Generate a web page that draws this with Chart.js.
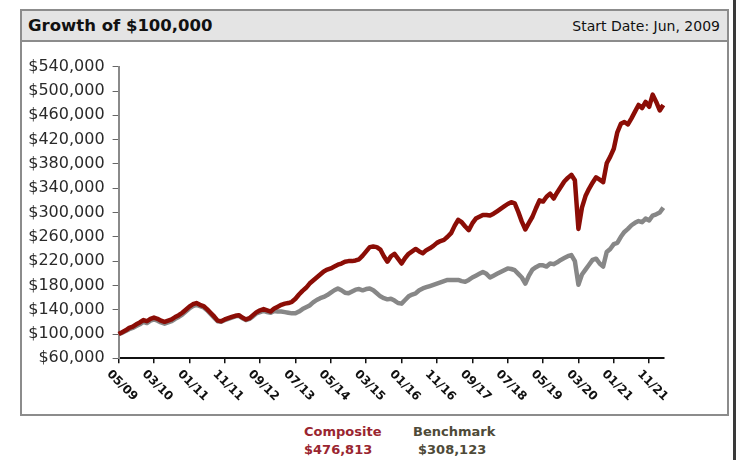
<!DOCTYPE html>
<html>
<head>
<meta charset="utf-8">
<script src="https://cdn.jsdelivr.net/npm/chart.js"></script>
<style>
  body { margin: 0; background: #fff; width: 737px; height: 460px; position: relative; overflow: hidden; }
  .box { position: absolute; box-sizing: border-box; }
  #titleBar { left: 20px; top: 9px; width: 709px; height: 33px; background: #e4e4e4; border: 2px solid #8c8c8c; }
  #title { position: absolute; left: 6px; top: 5px; font: bold 16.5px "DejaVu Sans"; color: #111; }
  #startDate { position: absolute; right: 7px; top: 7px; font: 14px "DejaVu Sans"; color: #111; }
  #plotBox { left: 20px; top: 40px; width: 709px; height: 376px; border: 2px solid #8c8c8c; }
  #edge { left: 733px; top: 0; width: 3px; height: 460px; background: #3a3a3a; }
  .leg { position: absolute; font: bold 13px "DejaVu Sans"; line-height: 18px; }
  #wrap { position: absolute; left: 0; top: 0; width: 737px; height: 460px; }
</style>
</head>
<body>
<div class="box" id="titleBar">
  <span id="title">Growth of $100,000</span>
  <span id="startDate">Start Date: Jun, 2009</span>
</div>
<div class="box" id="plotBox"></div>
<div class="box" id="edge"></div>
<div class="leg" style="left:304px;top:423px;color:#9a2530">Composite<br>$476,813</div>
<div class="leg" style="left:413px;top:423px;color:#4e4a38">Benchmark<br><span style="padding-left:5px">$308,123</span></div>
<div id="wrap"><canvas id="growthChart"></canvas></div>

<script>
// monthly values, May 2009 .. Mar 2022
const composite = [
  100000, 103000, 106000, 110000, 112000, 116000, 119000, 123000, 121000, 125000,
  127000, 125000, 122000, 120000, 122000, 124000, 128000, 131000, 135000, 140000,
  145000, 149000, 151000, 148000, 146000, 141000, 135000, 129000, 122000, 121000,
  124000, 126000, 128000, 130000, 131000, 127000, 124000, 126000, 131000, 136000,
  139000, 141000, 139000, 137000, 142000, 145000, 148000, 150000, 151000, 153000,
  158000, 165000, 171000, 176000, 183000, 188000, 193000, 198000, 203000, 206000,
  208000, 211000, 214000, 216000, 219000, 220000, 220000, 221000, 223000, 229000,
  236000, 243000, 244000, 243000, 239000, 228000, 219000, 228000, 232000, 224000,
  216000, 225000, 232000, 236000, 240000, 236000, 233000, 238000, 241000, 245000,
  250000, 253000, 255000, 260000, 266000, 278000, 288000, 284000, 277000, 271000,
  282000, 290000, 293000, 296000, 296000, 295000, 298000, 302000, 306000, 310000,
  314000, 317000, 315000, 301000, 285000, 272000, 283000, 293000, 307000, 320000,
  318000, 326000, 331000, 323000, 333000, 342000, 351000, 357000, 362000, 353000,
  273000, 308000, 327000, 339000, 349000, 358000, 354000, 350000, 381000, 392000,
  405000, 432000, 446000, 449000, 445000, 455000, 466000, 477000, 472000, 482000,
  474000, 494000, 482000, 468000, 476813
];
const benchmark = [
  100000, 102000, 105000, 108000, 110000, 113000, 116000, 120000, 118000, 122000,
  124000, 122000, 119000, 117000, 119000, 121000, 125000, 128000, 132000, 137000,
  142000, 146000, 148000, 146000, 144000, 139000, 133000, 127000, 121000, 120000,
  123000, 125000, 127000, 129000, 130000, 126000, 123000, 125000, 129000, 134000,
  136000, 138000, 136000, 135000, 138000, 137000, 137000, 136000, 135000, 134000,
  134000, 137000, 141000, 144000, 147000, 152000, 156000, 159000, 161000, 164000,
  168000, 172000, 175000, 172000, 168000, 167000, 170000, 173000, 174000, 172000,
  174000, 175000, 172000, 167000, 162000, 159000, 157000, 158000, 155000, 151000,
  150000, 156000, 162000, 165000, 167000, 172000, 175000, 177000, 179000, 181000,
  183000, 185000, 187000, 189000, 189000, 189000, 189000, 187000, 186000, 189000,
  193000, 196000, 199000, 202000, 199000, 193000, 196000, 199000, 202000, 205000,
  208000, 207000, 205000, 199000, 193000, 183000, 196000, 206000, 210000, 213000,
  213000, 211000, 216000, 215000, 218000, 222000, 225000, 228000, 230000, 220000,
  181000, 198000, 206000, 214000, 222000, 224000, 216000, 211000, 235000, 240000,
  248000, 250000, 260000, 268000, 273000, 279000, 283000, 286000, 284000, 290000,
  287000, 295000, 297000, 300000, 308123
];
const tickLabels = ['05/09', '03/10', '01/11', '11/11', '09/12', '07/13', '05/14', '03/15',
                    '01/16', '11/16', '09/17', '07/18', '05/19', '03/20', '01/21', '11/21'];
const tickEvery = 10;

// month categories
const months = [];
for (let i = 0; i < composite.length; i++) {
  const m = (4 + i) % 12 + 1, y = 9 + Math.floor((4 + i) / 12);
  months.push(String(m).padStart(2, '0') + '/' + String(y).padStart(2, '0'));
}

// excel-style labels, rotated down to the right
const xLabels = {
  id: 'xLabels',
  afterDraw(chart) {
    const { ctx, scales: { x } } = chart;
    ctx.save();
    ctx.font = 'bold 12px "DejaVu Sans"';
    ctx.fillStyle = '#111';
    ctx.textAlign = 'left';
    ctx.textBaseline = 'middle';
    tickLabels.forEach((lab, k) => {
      const px = x.getPixelForValue(k * tickEvery);
      ctx.save();
      ctx.translate(px - 10, x.top + 14);
      ctx.rotate(Math.PI / 4);
      ctx.fillText(lab, 0, 0);
      ctx.restore();
    });
    ctx.restore();
  }
};

new Chart(document.getElementById('growthChart'), {
  type: 'line',
  data: {
    labels: months,
    datasets: [{
      label: 'Composite',
      data: composite,
      borderColor: '#8b0d06',
      borderWidth: 4.5,
      pointRadius: 0,
      tension: 0,
      borderJoinStyle: 'round'
    }, {
      label: 'Benchmark',
      data: benchmark,
      borderColor: '#878787',
      borderWidth: 4.5,
      pointRadius: 0,
      tension: 0,
      borderJoinStyle: 'round'
    }]
  },
  options: {
    responsive: true,
    maintainAspectRatio: false,
    animation: false,
    layout: { padding: { left: 0, right: 73.7, top: 66.7, bottom: 95.7 } },
    plugins: { legend: { display: false }, tooltip: { enabled: false } },
    scales: {
      x: {
        type: 'category',
        afterFit(s) { s.height = 6; },
        ticks: { display: false, autoSkip: false },
        grid: {
          drawOnChartArea: false,
          drawTicks: true,
          tickLength: 5,
          lineWidth: 1.5,
          color: c => c.index % tickEvery === 0 ? '#111' : 'rgba(0,0,0,0)'
        },
        border: { color: '#111', width: 2 }
      },
      y: {
        min: 60000,
        max: 540000,
        afterFit(s) { s.width = 118.6; },
        ticks: {
          stepSize: 40000,
          padding: 8,
          color: '#2a2a2a',
          font: { family: 'DejaVu Sans', size: 16 },
          callback: v => '$' + v.toLocaleString('en-US')
        },
        grid: { drawOnChartArea: false, tickLength: 6, color: '#666' },
        border: { color: '#8a8a8a', width: 2 }
      }
    }
  },
  plugins: [xLabels]
});
</script>
</body>
</html>
